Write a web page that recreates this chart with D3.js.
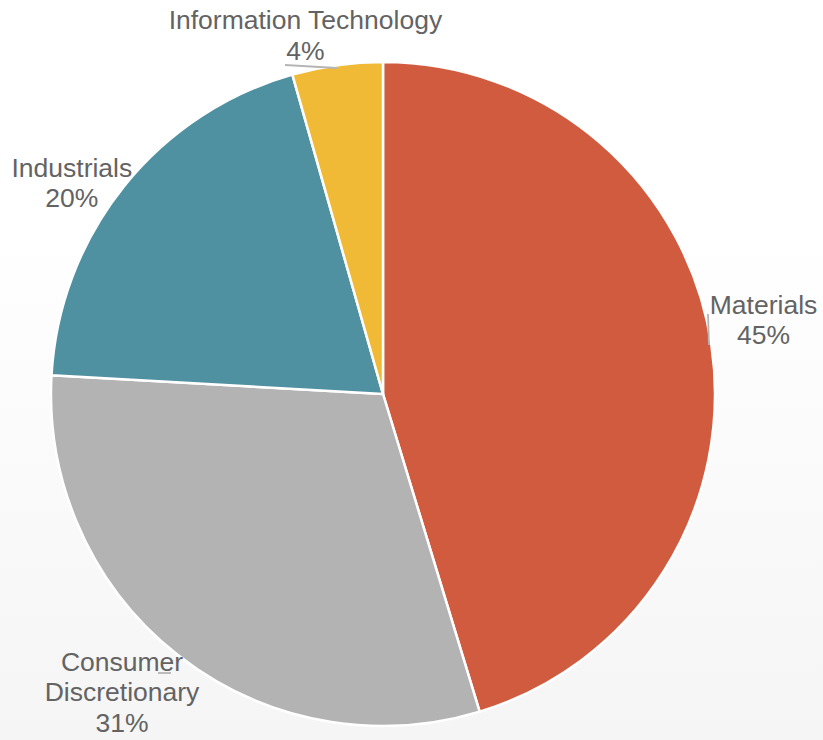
<!DOCTYPE html>
<html>
<head>
<meta charset="utf-8">
<script src="https://cdn.jsdelivr.net/npm/d3@7"></script>
<style>
  html, body { margin: 0; padding: 0; background: #fff; }
  svg { display: block; }
  text { font-family: "Liberation Sans", Arial, sans-serif; }
</style>
</head>
<body>
<svg id="chart" width="823" height="740"></svg>
<script>
// ---- data ----
const categories = ["Materials", "Consumer Discretionary", "Industrials", "Information Technology"];
const values = [45.3, 30.6, 19.7, 4.4];
const percentLabels = ["45%", "31%", "20%", "4%"];
const labelLines = [["Materials"], ["Consumer", "Discretionary"], ["Industrials"], ["Information Technology"]];
const colors = ["#D15B3E", "#B3B3B3", "#4F91A0", "#F0BA36"];

// ---- layout ----
const W = 823, H = 740;
const cx = 383, cy = 394, R = 332;
// label placement: radius from centre along slice mid-angle, and angle tweak (deg)
const labelRadius = [386, 403, 371, 358];
const labelAngleShift = [-1.2, 2.2, -5.7, -4.6];
const lineH = 30.5;

const svg = d3.select("#chart");
const defs = svg.append("defs");
const grad = defs.append("linearGradient").attr("id", "bg")
  .attr("x1", 0).attr("y1", 0).attr("x2", 0).attr("y2", 1);
grad.append("stop").attr("offset", "0.3").attr("stop-color", "#ffffff");
grad.append("stop").attr("offset", "1").attr("stop-color", "#f5f5f5");
svg.append("rect").attr("width", W).attr("height", H).attr("fill", "url(#bg)");

const pie = d3.pie().sort(null).value(d => d)(values);
const arc = d3.arc().innerRadius(0).outerRadius(R);

const g = svg.append("g").attr("transform", `translate(${cx},${cy})`);
g.selectAll("path.slice").data(pie).join("path")
  .attr("class", "slice")
  .attr("d", arc)
  .attr("fill", (d, i) => colors[i])
  .attr("stroke", "#ffffff")
  .attr("stroke-width", 2.5)
  .attr("stroke-linejoin", "round");

// labels
const textColor = "#636363";
pie.forEach((d, i) => {
  const mid = (d.startAngle + d.endAngle) / 2 + labelAngleShift[i] * Math.PI / 180;
  const lx = Math.sin(mid) * labelRadius[i];
  const ly = -Math.cos(mid) * labelRadius[i];
  const lines = labelLines[i].concat([percentLabels[i]]);
  const n = lines.length;
  const t = g.append("text")
    .attr("text-anchor", "middle")
    .attr("font-size", 26.5)
    .attr("fill", textColor);
  lines.forEach((ln, k) => {
    t.append("tspan")
      .attr("x", lx)
      .attr("y", ly + (k - (n - 1) / 2) * lineH)
      .text(ln);
  });
});

// leader lines (short connectors as in the reference)
const leaderColor = "#b5b5b5";
function leader(pts) {
  g.append("path")
    .attr("d", d3.line()(pts))
    .attr("fill", "none")
    .attr("stroke", leaderColor)
    .attr("stroke-width", 1.8);
}
// Information Technology: underline beneath "4%"
leader([[285 - cx, 65 - cy], [337 - cx, 68 - cy]]);
// Materials: vertical tick next to label
leader([[708 - cx, 314 - cy], [709 - cx, 345 - cy]]);
// Consumer Discretionary: short stroke under "er"
leader([[158 - cx, 673 - cy], [171 - cx, 673 - cy]]);
</script>
</body>
</html>
